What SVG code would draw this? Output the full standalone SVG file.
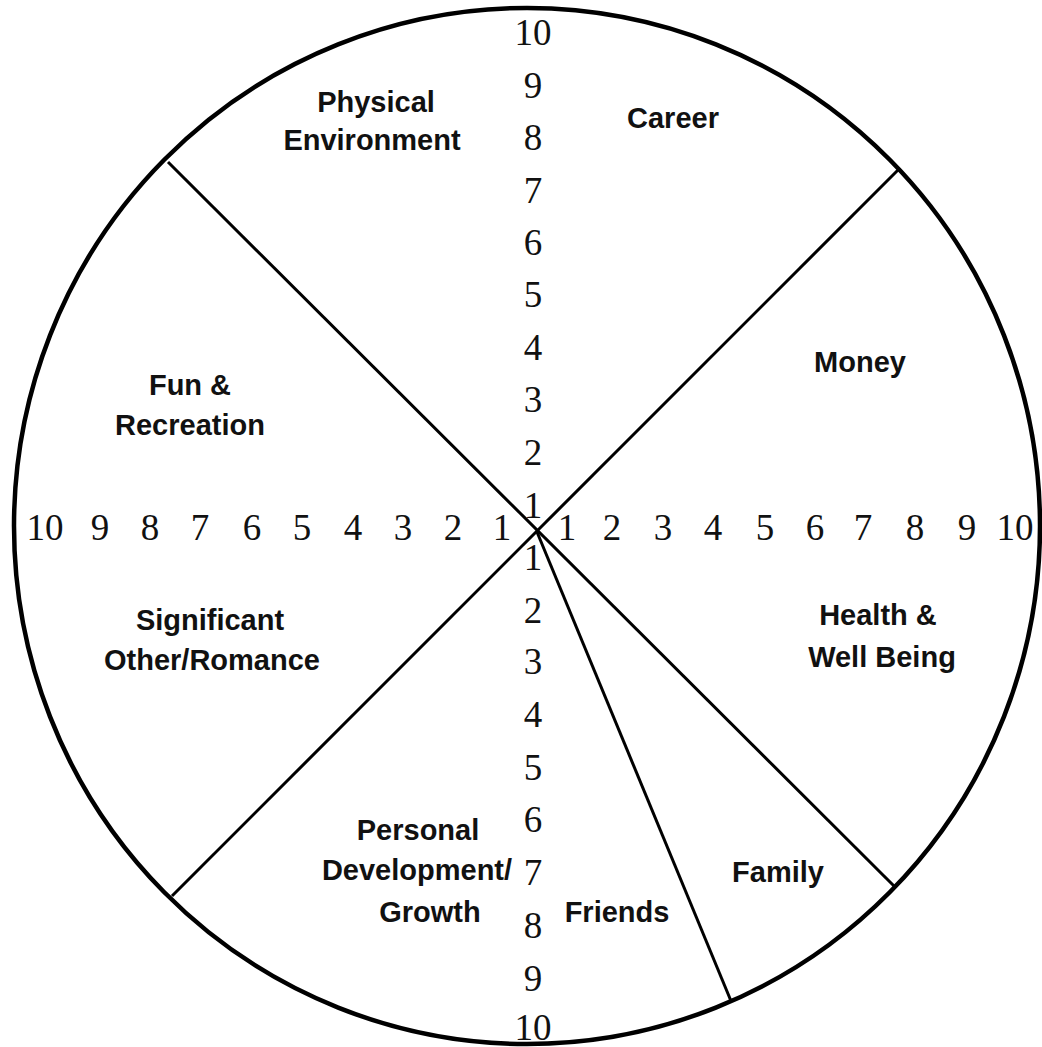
<svg xmlns="http://www.w3.org/2000/svg" width="1042" height="1047" viewBox="0 0 1042 1047">
<style>
.num{font-family:"Liberation Serif",serif;font-size:37px;fill:#111;text-anchor:middle}
.lbl{font-family:"Liberation Sans",Arial,sans-serif;font-size:29px;font-weight:bold;fill:#111;text-anchor:middle}
.ln{stroke:#000;stroke-width:3;fill:none}
</style>
<rect width="1042" height="1047" fill="#fff"/>
<ellipse id="wheel" cx="527" cy="526" rx="513" ry="518" fill="none" stroke="#000" stroke-width="4.5"/>
<g id="connectors">
<line class="ln" x1="168" y1="162" x2="895" y2="887"/>
<line class="ln" x1="900" y1="168" x2="172" y2="896"/>
<line class="ln" x1="537" y1="532" x2="731" y2="1001" stroke-width="2"/>
</g>
<g id="scale-top">
<text class="num" x="533" y="45">10</text>
<text class="num" x="533" y="98">9</text>
<text class="num" x="533" y="150">8</text>
<text class="num" x="533" y="203">7</text>
<text class="num" x="533" y="255">6</text>
<text class="num" x="533" y="307">5</text>
<text class="num" x="533" y="360">4</text>
<text class="num" x="533" y="412">3</text>
<text class="num" x="533" y="465">2</text>
<text class="num" x="533" y="518">1</text>
</g>
<g id="scale-bottom">
<text class="num" x="533" y="570">1</text>
<text class="num" x="533" y="623">2</text>
<text class="num" x="533" y="674">3</text>
<text class="num" x="533" y="727">4</text>
<text class="num" x="533" y="780">5</text>
<text class="num" x="533" y="832">6</text>
<text class="num" x="533" y="885">7</text>
<text class="num" x="533" y="938">8</text>
<text class="num" x="533" y="991">9</text>
<text class="num" x="533" y="1040">10</text>
</g>
<g id="scale-left">
<text class="num" x="45" y="540">10</text>
<text class="num" x="100" y="540">9</text>
<text class="num" x="150" y="540">8</text>
<text class="num" x="200" y="540">7</text>
<text class="num" x="252" y="540">6</text>
<text class="num" x="302" y="540">5</text>
<text class="num" x="353" y="540">4</text>
<text class="num" x="403" y="540">3</text>
<text class="num" x="453" y="540">2</text>
<text class="num" x="502" y="540">1</text>
</g>
<g id="scale-right">
<text class="num" x="567" y="540">1</text>
<text class="num" x="612" y="540">2</text>
<text class="num" x="663" y="540">3</text>
<text class="num" x="713" y="540">4</text>
<text class="num" x="765" y="540">5</text>
<text class="num" x="815" y="540">6</text>
<text class="num" x="863" y="540">7</text>
<text class="num" x="915" y="540">8</text>
<text class="num" x="967" y="540">9</text>
<text class="num" x="1015" y="540">10</text>
</g>
<g id="physical-environment"><text class="lbl" x="376" y="112">Physical</text><text class="lbl" x="372" y="150">Environment</text></g>
<g id="career"><text class="lbl" x="673" y="128">Career</text></g>
<g id="money"><text class="lbl" x="860" y="372">Money</text></g>
<g id="fun-recreation"><text class="lbl" x="190" y="395">Fun &amp;</text><text class="lbl" x="190" y="435">Recreation</text></g>
<g id="significant-other"><text class="lbl" x="210" y="630">Significant</text><text class="lbl" x="212" y="670">Other/Romance</text></g>
<g id="health"><text class="lbl" x="878" y="625">Health &amp;</text><text class="lbl" x="882" y="667">Well Being</text></g>
<g id="personal-development"><text class="lbl" x="418" y="840">Personal</text><text class="lbl" x="417" y="880">Development/</text><text class="lbl" x="430" y="922">Growth</text></g>
<g id="family"><text class="lbl" x="778" y="882">Family</text></g>
<g id="friends"><text class="lbl" x="617" y="922">Friends</text></g>
</svg>
